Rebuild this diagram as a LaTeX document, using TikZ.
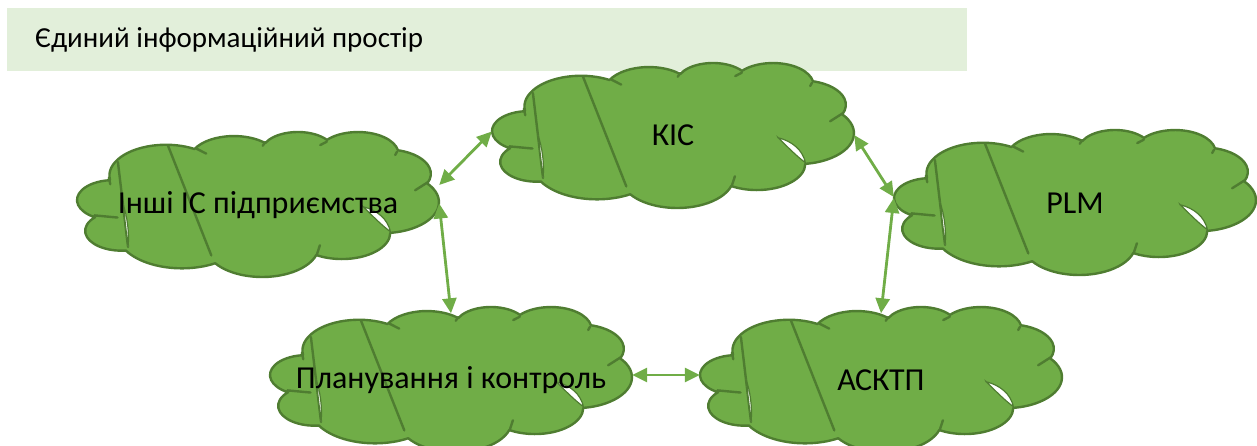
\documentclass[tikz,border=0pt]{standalone}
\usepackage{fontspec}
\setmainfont{Carlito}
\usetikzlibrary{arrows.meta}

\definecolor{cloudfill}{HTML}{70AD47}
\definecolor{cloudline}{HTML}{4F7D31}
\definecolor{linkgreen}{HTML}{70AD47}
\definecolor{bandfill}{HTML}{E2EFDA}

% elliptic arc given by radii, start angle and sweep (visual angles, degrees)
\newcommand\ooarc[4]{%
  \pgfextra{%
    \pgfmathparse{atan2(#1*sin(#3),#2*cos(#3))}\xdef\oostart{\pgfmathresult}%
    \pgfmathparse{atan2(#1*sin(#3+#4),#2*cos(#3+#4))}\xdef\ooend{\pgfmathresult}%
    \pgfmathparse{mod(\ooend-\oostart+720,360)}\xdef\oodelta{\pgfmathresult}%
  }%
  arc[start angle=\oostart, delta angle=\oodelta, x radius=#1, y radius=#2]%
}

% cloud outline, in a 43.2 x 43.2 unit frame (y pointing down)
\newcommand\cloudoutline{%
  (3.900,14.370)
  \ooarc{6.753}{9.190}{-190.48748}{123.78053}
  \ooarc{5.333}{7.267}{-144.10238}{89.94523}
  \ooarc{4.365}{5.945}{-145.80792}{99.72302}
  \ooarc{4.857}{6.595}{-130.98607}{117.24173}
  \ooarc{5.333}{7.273}{-78.70888}{109.02692}
  \ooarc{6.775}{9.220}{-46.26725}{130.26900}
  \ooarc{5.785}{7.867}{0.62502}{114.03333}
  \ooarc{6.752}{9.215}{22.45160}{115.17255}
  \ooarc{7.720}{10.543}{66.24263}{75.71102}
  \ooarc{4.360}{5.918}{-274.94208}{146.73557}
  \ooarc{4.345}{5.945}{-246.82850}{152.51885}
  -- cycle}

\tikzset{
  cloudedge/.style={draw=cloudline, line width=2.4pt, line join=round},
  creaseline/.style={draw=cloudline, line width=2.4pt, line cap=round},
  sliver/.style={fill=white, draw=cloudline, line width=1.2pt},
  cloudlabel/.style={inner sep=0pt, minimum width=362pt, minimum height=145pt,
    font=\fontsize{32}{38}\selectfont},
  link/.style={draw=linkgreen, line width=2.8pt,
    {Triangle[length=15pt,width=14pt]}-{Triangle[length=15pt,width=14pt]}}
}

% one cloud whose box has its top left corner at (#1,#2), 362 x 145
\newcommand\drawcloud[2]{%
  \begin{scope}[shift={(#1,#2)}]
    \begin{scope}[xscale=8.3686, yscale=3.3553, shift={(0.036,-0.140)}]
      \path[cloudedge, fill=cloudfill] \cloudoutline;
    \end{scope}
    \begin{scope}[xscale=362, yscale=145]
      \draw[creaseline] (0.113,0.207) -- (0.141,0.793);
      \draw[sliver] (0.127,0.50) .. controls (0.139,0.58) and (0.145,0.70) .. (0.141,0.79)
                    .. controls (0.136,0.69) and (0.132,0.59) .. cycle;
      \draw[creaseline] (0.251,0.092) -- (0.371,0.851);
      \draw[creaseline] (0.048,0.575) -- (0.112,0.590);
      \draw[creaseline] (0.088,0.315) -- (0.092,0.360);
      \draw[creaseline] (0.330,0.115) -- (0.357,0.149);
      \draw[creaseline] (0.513,0.095) -- (0.520,0.070);
      \draw[creaseline] (0.672,0.090) -- (0.690,0.067);
      \draw[creaseline] (0.879,0.159) -- (0.884,0.136);
      \draw[creaseline] (0.934,0.402) -- (0.970,0.345);
      \draw[creaseline] (0.671,0.781) -- (0.662,0.850);
      \draw[sliver] (0.790,0.515) .. controls (0.830,0.540) and (0.858,0.600) .. (0.866,0.688)
                    .. controls (0.840,0.640) and (0.815,0.575) .. cycle;
    \end{scope}
  \end{scope}}

\begin{document}
\begin{tikzpicture}[x=1pt, y=-1pt]
  \useasboundingbox (0,0) rectangle (1257,446);

  % title band
  \fill[bandfill] (7,8) rectangle (967,71);
  \node[anchor=west, inner sep=0pt, font=\fontsize{29}{35}\selectfont] (title) at (35,40)
    {Єдиний інформаційний простір};

  % cloud bodies
  \drawcloud{492}{63}
  \drawcloud{77}{132}
  \drawcloud{894}{130}
  \drawcloud{270}{307}
  \drawcloud{700}{307}

  % labels
  \node[cloudlabel] (kis)  at (673,135.5) {КІС};
  \node[cloudlabel] (ini)  at (258,205.5) {Інші ІС підприємства};
  \node[cloudlabel] (plm)  at (1075,203.5) {PLM};
  \node[cloudlabel] (plan) at (451,380) {Планування і контроль};
  \node[cloudlabel] (askt) at (881,380) {АСКТП};

  % links
  \draw[link] ([yshift=20.5pt]ini.east) -- ([yshift=4pt]kis.west);
  \draw[link] ([yshift=2pt]ini.east) -- ([yshift=-6pt]plan.north);
  \draw[link] ([yshift=5pt]plan.east) -- ([yshift=5pt]askt.west);
  \draw[link] ([yshift=-6pt]askt.north) -- ([yshift=5.5pt]plm.west);
  \draw[link] ([yshift=0.5pt]kis.east) -- ([yshift=6.5pt]plm.west);
\end{tikzpicture}
\end{document}
